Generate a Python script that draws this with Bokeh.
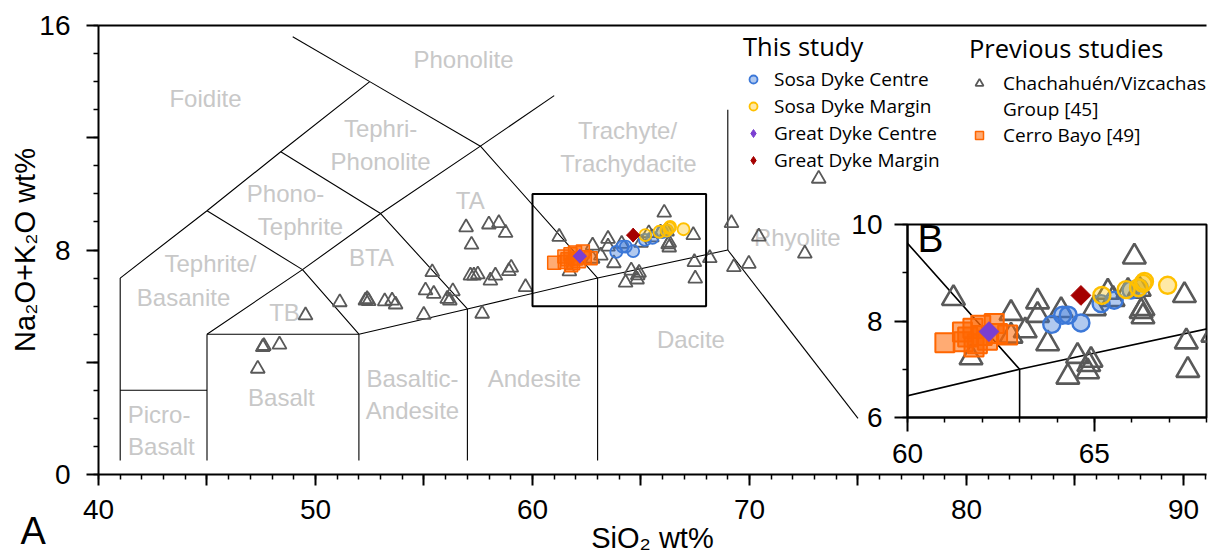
import numpy as np
from bokeh.plotting import figure
from bokeh.models import (Range1d, LinearAxis, SingleIntervalTicker, FixedTicker,
                          Legend, LegendItem, Label, BoxAnnotation)
from bokeh.layouts import column
from bokeh.core.properties import value
from bokeh.embed import file_html
from bokeh.resources import INLINE

# ---------------- data ----------------
# Previous studies: Chachahuen/Vizcachas Group [45]
prev_sio2 = [47.34, 47.57, 47.62, 48.34, 49.54, 51.12, 52.30, 52.38, 52.45, 53.19, 53.53, 53.69,
             54.99, 55.07, 55.38, 55.45, 56.07, 56.19, 56.33, 56.94, 57.14, 57.19, 57.30, 57.48,
             57.68, 57.99, 58.06, 58.29, 58.45, 58.76, 58.91, 59.02, 59.68,
             61.23, 61.70, 62.77, 63.15, 62.77, 63.48, 63.48, 63.75, 64.11, 64.29, 64.55, 64.82,
             64.91, 64.85, 65.00, 65.36, 65.50, 66.07, 66.30, 66.30, 66.25, 67.41, 67.46, 67.50,
             65.90, 66.20,
             68.17, 69.17, 69.28, 69.97, 70.43, 72.55, 73.19]
prev_alk = [3.77, 4.54, 4.58, 4.63, 5.67, 6.14, 6.20, 6.25, 6.18, 6.17, 6.20, 6.06,
            5.69, 6.56, 7.21, 6.44, 6.26, 6.20, 6.53, 8.81, 7.09, 8.19, 7.09, 7.13,
            5.73, 8.91, 6.91, 7.09, 8.96, 8.61, 7.25, 7.37, 6.68,
            8.47, 7.24, 8.16, 7.80, 7.69, 8.40, 8.12, 7.53, 8.22, 6.84, 7.27, 6.95,
            7.19, 7.10, 8.26, 8.60, 8.45, 9.33, 8.26, 8.09, 8.20, 8.53, 7.57, 6.98,
            8.62, 8.66,
            7.71, 8.96, 7.39, 7.51, 8.48, 7.87, 10.54]

# Cerro Bayo [49]
cb_sio2 = [61.00, 61.49, 61.78, 61.96, 62.32, 62.41, 62.68, 62.14, 61.87, 61.61, 61.47, 61.75, 62.00]
cb_alk = [7.55, 7.57, 7.46, 7.91, 7.95, 7.74, 7.71, 7.60, 7.53, 7.67, 7.77, 7.85, 7.70]

# This study
sc_sio2 = [63.86, 64.15, 64.30, 64.64, 65.18, 65.53, 65.98, 66.20]   # Sosa Dyke Centre
sc_alk = [7.93, 8.12, 8.12, 7.96, 8.36, 8.43, 8.64, 8.69]
sm_sio2 = [65.20, 65.85, 66.18, 66.30, 66.34, 66.96]                 # Sosa Dyke Margin
sm_alk = [8.53, 8.65, 8.69, 8.78, 8.82, 8.74]
gc_sio2 = [62.18]                                                     # Great Dyke Centre
gc_alk = [7.78]
gm_sio2 = [64.64]                                                     # Great Dyke Margin
gm_alk = [8.53]

# TAS field boundaries
bound_x = [[41, 41], [41, 45], [45, 45], [45, 52], [52, 52], [57, 57], [63, 63],
           [52, 57, 63, 69], [69, 69], [69, 75], [45, 49.4, 52], [49.4, 53, 57],
           [53, 57.6, 63], [57.6, 61], [41, 45, 48.4, 52.5], [45, 49.4], [48.4, 53],
           [52.5, 57.6], [52.5, 48.95]]
bound_y = [[0.5, 7], [3, 3], [0.5, 5], [5, 5], [0.5, 5], [0.5, 5.9], [0.5, 7],
           [5, 5.9, 7, 8], [8, 13], [8, 2], [5, 7.3, 5], [7.3, 9.3, 5.9],
           [9.3, 11.7, 7], [11.7, 13.5], [7, 9.4, 11.5, 14], [9.4, 7.3], [11.5, 9.3],
           [14, 11.7], [14, 15.6]]

# field names (one entry per text line)
field_text = ["Foidite", "Phonolite", "Tephri-", "Phonolite", "Phono-", "Tephrite",
              "Tephrite/", "Basanite", "BTA", "TB", "TA", "Trachyte/", "Trachydacite",
              "Picro-", "Basalt", "Basalt", "Basaltic-", "Andesite", "Andesite",
              "Dacite", "Rhyolite"]
field_x = [44.93, 56.82, 53.00, 53.00, 48.62, 49.31, 45.16, 43.92, 52.58, 48.57, 57.13,
           64.38, 64.42, 42.79, 42.90, 48.43, 54.47, 54.47, 60.09, 67.30, 72.20]
field_y = [13.40, 14.79, 12.33, 11.15, 10.01, 8.84, 7.52, 6.31, 7.73, 5.78, 9.77,
           12.26, 11.08, 2.14, 1.00, 2.74, 3.42, 2.28, 3.43, 4.80, 8.46]

x_blank = {45: "", 55: "", 65: "", 75: "", 85: ""}
y_blank = {4: "", 12: ""}

# ---------------- styles ----------------
TF = "Liberation Sans"
LF = "Open Sans"
TRI = "#595959"
BLUE = "#3c78d8"
GOLD = "#ffc000"
PURPLE = "#7b3fd1"
DRED = "#a50000"
ORANGE = "#ff6600"

def style_axis(ax, tick_out, label_standoff):
    ax.axis_line_width = 2
    ax.major_tick_line_width = 2
    ax.minor_tick_line_width = 1.5
    ax.major_tick_in = 0
    ax.minor_tick_in = 0
    ax.major_tick_out = tick_out
    ax.minor_tick_out = 5
    ax.major_label_text_font = TF
    ax.major_label_text_font_size = "28px"
    ax.major_label_text_color = "black"
    ax.major_label_standoff = label_standoff
    ax.axis_label_text_font = TF
    ax.axis_label_text_font_size = "29px"
    ax.axis_label_text_font_style = "normal"
    ax.axis_label_text_color = "black"

# ---------------- main TAS plot ----------------
# (plots stacked in one column share left/right border widths: 98 and 3)
p = figure(width=1209, height=558, x_range=Range1d(40, 91.06), y_range=Range1d(0, 16),
           output_backend="svg", toolbar_location=None,
           min_border_left=98, min_border_top=25, min_border_right=3, min_border_bottom=84,
           outline_line_color=None, x_axis_label="SiO₂ wt%", y_axis_label="Na₂O+K₂O wt%")
p.xgrid.visible = False
p.ygrid.visible = False
p.xaxis.ticker = SingleIntervalTicker(interval=5, num_minor_ticks=5)
p.yaxis.ticker = SingleIntervalTicker(interval=4, num_minor_ticks=4)
p.xaxis.major_label_overrides = x_blank
p.yaxis.major_label_overrides = y_blank
style_axis(p.xaxis[0], 11, 14)
style_axis(p.yaxis[0], 12, 16)
p.xaxis.axis_label_standoff = 0
p.yaxis.axis_label_standoff = -5

top = LinearAxis(ticker=FixedTicker(ticks=[]), axis_line_width=2, major_tick_out=0,
                 minor_tick_out=0, major_label_text_font_size="0px")
p.add_layout(top, "above")

p.text(x=field_x, y=field_y, text=field_text, text_font=value(TF), text_font_size="24px",
       text_color="#c8c8c8", text_align="center", text_baseline="middle")
p.multi_line(xs=bound_x, ys=bound_y, line_color="black", line_width=1.1)
p.add_layout(BoxAnnotation(left=60, right=68, bottom=6, top=10, fill_alpha=0,
                           line_color="black", line_alpha=1, line_width=2))

r_tri = p.scatter(prev_sio2, prev_alk, marker="triangle", size=14, fill_alpha=0,
                  line_color=TRI, line_width=1.8)
r_cb = p.scatter(cb_sio2, cb_alk, marker="square", size=13, fill_color=ORANGE,
                 fill_alpha=0.55, line_color=ORANGE, line_width=1.5)
r_sc = p.scatter(sc_sio2, sc_alk, marker="circle", size=12, fill_color=BLUE,
                 fill_alpha=0.4, line_color=BLUE, line_width=1.8)
r_sm = p.scatter(sm_sio2, sm_alk, marker="circle", size=12, fill_color=GOLD,
                 fill_alpha=0.35, line_color=GOLD, line_width=1.8)
# diamond glyph (used by the legend), covered by a rotated square of the same colour
r_gc = p.scatter(gc_sio2, gc_alk, marker="diamond", size=14, fill_color=PURPLE, line_color=PURPLE)
r_gm = p.scatter(gm_sio2, gm_alk, marker="diamond", size=14, fill_color=DRED, line_color=DRED)
p.scatter(gc_sio2, gc_alk, marker="square", angle=np.pi / 4, size=9.5,
          fill_color=PURPLE, line_color=PURPLE)
p.scatter(gm_sio2, gm_alk, marker="square", angle=np.pi / 4, size=9.5,
          fill_color=DRED, line_color=DRED)
k_blank = p.scatter(x=[], y=[], marker="circle", size=1, fill_alpha=0, line_alpha=0)

def make_legend(items, title, loc, standoff, spacing, tstand):
    return Legend(items=items, title=title, location=loc, border_line_color=None,
                  background_fill_alpha=0, padding=0, margin=0, spacing=spacing,
                  label_height=24, glyph_height=24, glyph_width=20,
                  label_standoff=standoff, title_standoff=tstand,
                  label_text_font=LF, label_text_font_size="19px", label_text_color="black",
                  title_text_font=LF, title_text_font_size="25.5px",
                  title_text_font_style="normal", title_text_color="black")

leg1 = make_legend([LegendItem(label="Sosa Dyke Centre", renderers=[r_sc]),
                    LegendItem(label="Sosa Dyke Margin", renderers=[r_sm]),
                    LegendItem(label="Great Dyke Centre", renderers=[r_gc]),
                    LegendItem(label="Great Dyke Margin", renderers=[r_gm])],
                   "This study", (645, 301), 11, 1, 3)
leg2 = make_legend([LegendItem(label="Chachahuén/Vizcachas", renderers=[r_tri]),
                    LegendItem(label="Group [45]", renderers=[k_blank]),
                    LegendItem(label="Cerro Bayo [49]", renderers=[r_cb])],
                   "Previous studies", (871, 326), 14, 0, 5)
p.add_layout(leg1)
p.add_layout(leg2)

# ---------------- inset B ----------------
ins = figure(width=400, height=271, x_range=Range1d(60, 68), y_range=Range1d(6, 10),
             output_backend="svg", toolbar_location=None,
             min_border_left=98, min_border_top=22, min_border_right=3, min_border_bottom=56,
             border_fill_alpha=0, background_fill_color="white",
             outline_line_color="black", outline_line_width=2,
             margin=(-356, 0, 0, 809))
ins.xgrid.visible = False
ins.ygrid.visible = False
ins.xaxis.ticker = SingleIntervalTicker(interval=5, num_minor_ticks=5)
ins.yaxis.ticker = SingleIntervalTicker(interval=2, num_minor_ticks=2)
style_axis(ins.xaxis[0], 14, 12)
style_axis(ins.yaxis[0], 13, 12)
ins.xaxis.axis_label = None
ins.yaxis.axis_label = None

ins.multi_line(xs=bound_x, ys=bound_y, line_color="black", line_width=1.6)
ins.scatter(prev_sio2, prev_alk, marker="triangle", size=23, fill_alpha=0,
            line_color=TRI, line_width=2.6)
ins.scatter(cb_sio2, cb_alk, marker="square", size=19, fill_color=ORANGE,
            fill_alpha=0.55, line_color=ORANGE, line_width=2)
ins.scatter(sc_sio2, sc_alk, marker="circle", size=17, fill_color=BLUE,
            fill_alpha=0.4, line_color=BLUE, line_width=2.4)
ins.scatter(sm_sio2, sm_alk, marker="circle", size=17, fill_color=GOLD,
            fill_alpha=0.35, line_color=GOLD, line_width=2.4)
ins.scatter(gc_sio2, gc_alk, marker="square", angle=np.pi / 4, size=14,
            fill_color=PURPLE, line_color=PURPLE)
ins.scatter(gm_sio2, gm_alk, marker="square", angle=np.pi / 4, size=14,
            fill_color=DRED, line_color=DRED)
ins.add_layout(Label(x=60.27, y=9.26, text="B", text_font=TF, text_font_size="39px",
                     text_color="black"))

# ---------------- panel letter A ----------------
pa = figure(width=196, height=84, x_range=Range1d(0, 95), y_range=Range1d(0, 84),
            output_backend="svg", toolbar_location=None, x_axis_type=None, y_axis_type=None,
            min_border_left=98, min_border_right=3, min_border_top=0, min_border_bottom=0,
            border_fill_alpha=0, background_fill_alpha=0,
            outline_line_color=None, margin=(1, 0, 0, -98))
pa.xgrid.visible = False
pa.ygrid.visible = False
pa.add_layout(Label(x=20, y=28, text="A", text_font=TF, text_font_size="38px",
                    text_color="black", text_baseline="alphabetic"))

layout = column(p, ins, pa)

open("out.html", "w").write(file_html(layout, INLINE))
